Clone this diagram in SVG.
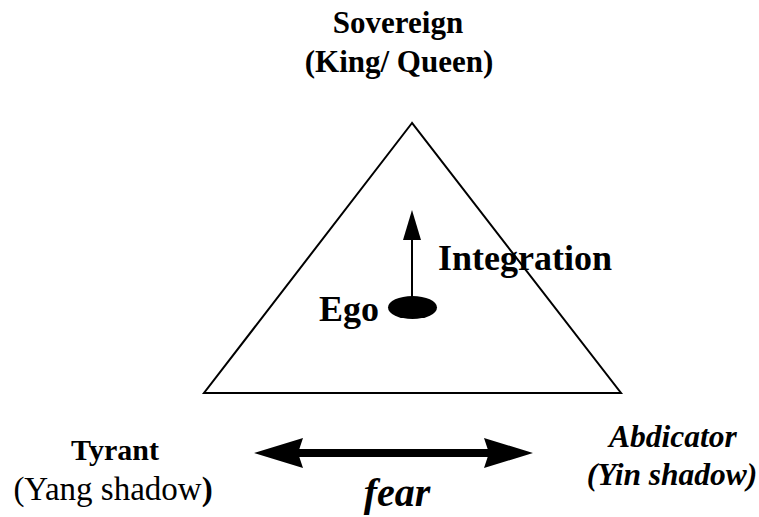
<svg xmlns="http://www.w3.org/2000/svg" width="759" height="517" viewBox="0 0 759 517">
<style>
text{font-family:"Liberation Serif","Times New Roman",serif;fill:#000}
.b{font-weight:bold}
.i{font-style:italic}
.c{text-anchor:middle}
.line{stroke:#000;stroke-width:2;fill:none}
</style>
<rect width="759" height="517" fill="#fff"/>
<g id="sovereign">
<text class="b c" x="398" y="33" font-size="31">Sovereign</text>
<text class="b c" x="399" y="72" font-size="31">(King/ Queen)</text>
</g>
<g id="triangle">
<polygon points="412,123 204,393 621,393" fill="#fff" stroke="#000" stroke-width="2"/>
</g>
<g id="ego">
<ellipse cx="412.5" cy="307.5" rx="24.5" ry="11.5" fill="#000"/>
<text class="b" x="319" y="321" font-size="36">Ego</text>
</g>
<g id="integration">
<text class="b" x="438" y="270" font-size="36">Integration</text>
</g>
<g id="tyrant">
<text class="b c" x="115" y="460" font-size="30">Tyrant</text>
<text class="c" x="113" y="500" font-size="33">(Yang shadow<tspan class="b">)</tspan></text>
</g>
<g id="abdicator">
<text class="b i c" x="673" y="447" font-size="31.5">Abdicator</text>
<text class="b i c" x="672" y="485" font-size="31.5">(Yin shadow)</text>
</g>
<g id="fear">
<text class="b i c" x="397" y="506" font-size="40">fear</text>
</g>
<g id="connectors">
<line class="line" x1="412" y1="297" x2="412" y2="236"/>
<polygon points="412,210 403,240 421,240" fill="#000"/>
<line x1="296" y1="453" x2="492" y2="453" stroke="#000" stroke-width="8"/>
<polygon points="254,453 303,438 298,453 303,468" fill="#000"/>
<polygon points="533,453 484,438 489,453 484,468" fill="#000"/>
</g>
</svg>
